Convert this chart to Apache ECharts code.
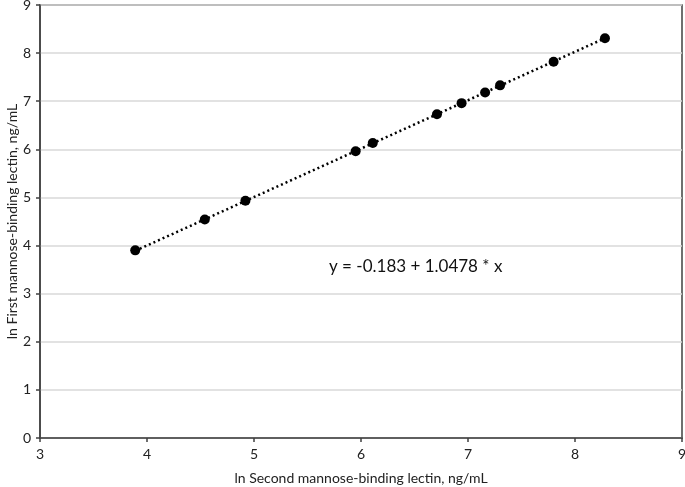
<!DOCTYPE html>
<html>
<head>
<meta charset="utf-8">
<script src="https://cdn.jsdelivr.net/npm/echarts@6/dist/echarts.min.js"></script>
<style>
  html, body { margin: 0; padding: 0; background: #fff; }
  #chart { width: 685px; height: 487px; }
</style>
</head>
<body>
<div id="chart"></div>
<script>
// ln Second MBL (x) vs ln First MBL (y)
const secondLn = [3.89, 4.54, 4.92, 5.95, 6.11, 6.71, 6.94, 7.16, 7.30, 7.80, 8.28]
const firstLn = [3.90, 4.54, 4.93, 5.96, 6.13, 6.73, 6.96, 7.18, 7.33, 7.82, 8.31]

// fitted line end points, as drawn
const trendX = [3.89, 8.28]
const trendY = [3.89, 8.31]

const equationText = 'y = -0.183 + 1.0478 * x'

const font = 'Lato, "Open Sans", sans-serif'
const chart = echarts.init(document.getElementById('chart'))

chart.setOption({
  animation: false,
  grid: {
    left: 40,
    right: 3,
    top: 5,
    bottom: 49,
    outerBoundsMode: 'none',
    containLabel: false,
    show: true,
    borderColor: '#404040',
    borderWidth: 1.5
  },
  xAxis: {
    type: 'value',
    min: 3,
    max: 9,
    interval: 1,
    name: 'ln Second mannose-binding lectin, ng/mL',
    nameLocation: 'middle',
    nameMoveOverlap: false,
    nameGap: 33,
    nameTextStyle: { fontFamily: font, fontSize: 14, color: '#222' },
    axisLine: { onZero: false, lineStyle: { color: '#404040', width: 1.5 } },
    axisTick: { show: true, length: 4, lineStyle: { color: '#404040', width: 1.5 } },
    axisLabel: { fontFamily: font, fontSize: 14, color: '#222', margin: 9 },
    splitLine: { show: false }
  },
  yAxis: {
    type: 'value',
    min: 0,
    max: 9,
    interval: 1,
    name: 'ln First mannose-binding lectin, ng/mL',
    nameLocation: 'middle',
    nameMoveOverlap: false,
    nameGap: 21,
    nameTextStyle: { fontFamily: font, fontSize: 14, color: '#222' },
    axisLine: { show: true, lineStyle: { color: '#404040', width: 1.5 } },
    axisTick: { show: true, length: 4, lineStyle: { color: '#404040', width: 1.5 } },
    axisLabel: { fontFamily: font, fontSize: 14, color: '#222', margin: 9 },
    splitLine: { show: true, lineStyle: { color: '#d9d9d9', width: 1.5 } }
  },
  graphic: [
    {
      type: 'text',
      left: 329,
      top: 258,
      style: {
        text: equationText,
        font: '17px ' + font,
        fill: '#111'
      }
    }
  ],
  series: [
    {
      type: 'line',
      data: trendX.map((x, i) => [x, trendY[i]]),
      symbol: 'none',
      lineStyle: { color: '#000', width: 2.5, type: [2, 3] },
      z: 2
    },
    {
      type: 'scatter',
      data: secondLn.map((x, i) => [x, firstLn[i]]),
      symbol: 'circle',
      symbolSize: 10,
      itemStyle: { color: '#000', opacity: 1 },
      emphasis: { disabled: true },
      z: 3
    }
  ]
})
</script>
</body>
</html>
